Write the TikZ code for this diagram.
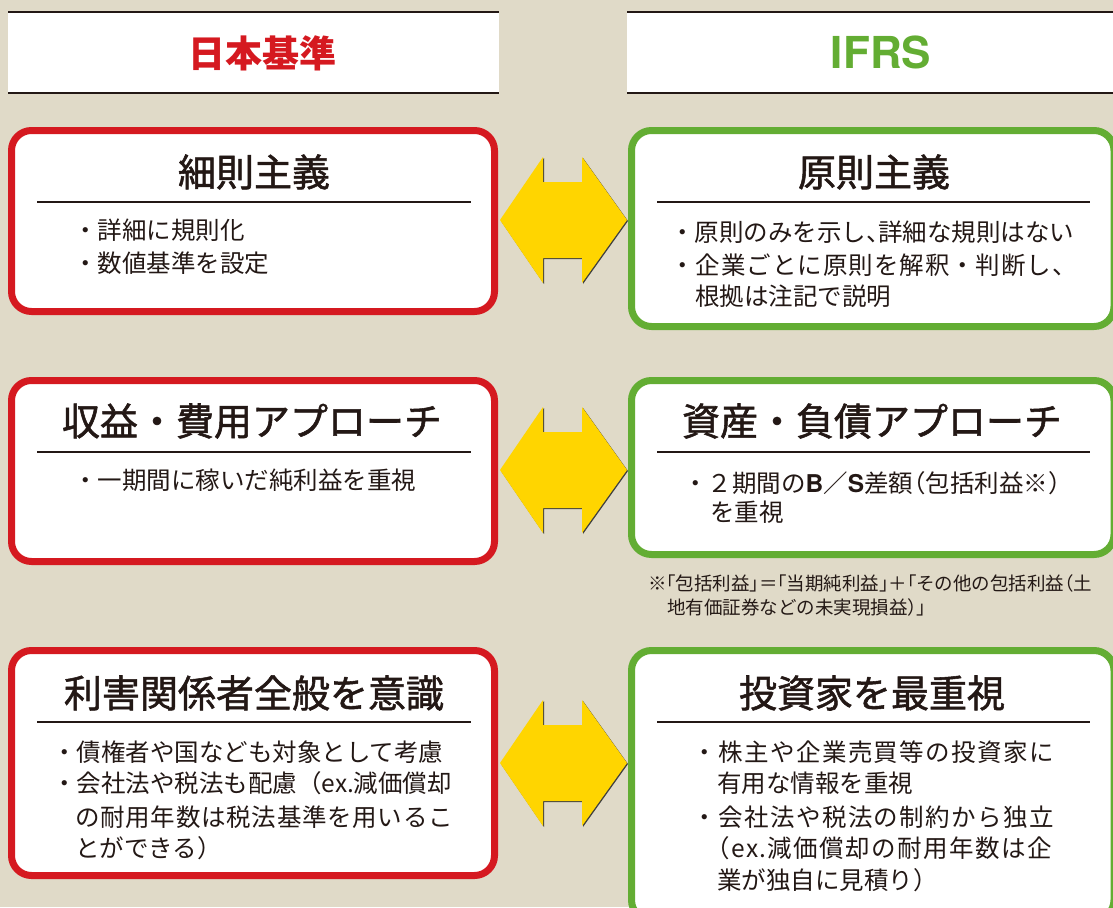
\documentclass[tikz,border=0pt]{standalone}
\usepackage{fontspec}
\newfontfamily\jp{Noto Sans CJK JP}
\newfontfamily\jpt[FakeBold=1.4]{Noto Sans CJK JP}
\newfontfamily\heros{TeX Gyre Heros}
\definecolor{bg}{HTML}{E0DAC8}
\definecolor{jred}{HTML}{D51920}
\definecolor{igreen}{HTML}{63AD33}
\definecolor{arrowy}{HTML}{FFD500}
\definecolor{ink}{HTML}{231815}
\newcommand\lsp[1]{\addfontfeature{LetterSpace=#1}}
\newcommand\prop{\addfontfeature{RawFeature=+palt}}
\newcommand\hw[1]{{\prop #1}}
\tikzset{
  redbox/.style={draw=jred, line width=7pt, fill=white, rounded corners=20pt},
  greenbox/.style={draw=igreen, line width=7pt, fill=white, rounded corners=20pt},
  sepline/.style={draw=ink, line width=1.3pt},
  hdrline/.style={draw=ink, line width=1.6pt},
  ttl/.style={anchor=base, inner sep=0pt, text=ink, font=\jpt\fontsize{38}{38}\selectfont},
  body/.style={anchor=base west, inner sep=0pt, text=ink, font=\jp\fontsize{24.5}{24.5}\selectfont},
  note/.style={anchor=base west, inner sep=0pt, text=ink, font=\jp\fontsize{18.5}{18.5}\selectfont},
  dblarr/.pic={
    \fill[black!75] (-62.5,1) -- (-19.5,-62) -- (-19.5,-37) -- (19.5,-37) -- (19.5,-62) -- (64.5,1) -- (19.5,64) -- (19.5,39) -- (-19.5,39) -- (-19.5,64) -- cycle;
    \fill[arrowy] (-63.5,0) -- (-20.5,-63) -- (-20.5,-38) -- (18.5,-38) -- (18.5,-63) -- (63.5,0) -- (18.5,63) -- (18.5,38) -- (-20.5,38) -- (-20.5,63) -- cycle;
  }
}
\begin{document}
\begin{tikzpicture}[x=1pt,y=-1pt]
\useasboundingbox (0,0) rectangle (1113,907);
\fill[bg] (0,0) rectangle (1113,907);

% headers
\fill[white] (8,12) rectangle (499,93);
\draw[hdrline] (8,12) -- (499,12);
\draw[hdrline] (8,93) -- (499,93);
\fill[white] (627,12) rectangle (1113,93);
\draw[hdrline] (627,12) -- (1113,12);
\draw[hdrline] (627,93) -- (1113,93);
\node[anchor=base, inner sep=0pt, text=jred, font=\jp\bfseries\fontsize{37}{37}\selectfont] (hjp) at (262,67) {日本基準};
\node[anchor=base, inner sep=0pt, text=igreen, font=\heros\bfseries\fontsize{44}{44}\selectfont] (hifrs) at (881,68) {IFRS};

% boxes
\draw[redbox] (11.5,130.5) rectangle (494.5,311.5);
\draw[greenbox] (631.5,130.5) rectangle (1114,326.5);
\draw[redbox] (11.5,380.5) rectangle (494.5,561.5);
\draw[greenbox] (631.5,380.5) rectangle (1114,554.5);
\draw[redbox] (11.5,650.5) rectangle (494.5,875.5);
\draw[greenbox] (631.5,650.5) rectangle (1114,920);

% separators
\draw[sepline] (37,202) -- (471,202);
\draw[sepline] (657,202) -- (1090,202);
\draw[sepline] (37,452) -- (471,452);
\draw[sepline] (657,452) -- (1090,452);
\draw[sepline] (37,722) -- (471,722);
\draw[sepline] (657,722) -- (1090,722);

% arrows
\pic at (563.5,220) {dblarr};
\pic at (563.5,470) {dblarr};
\pic at (563.5,763) {dblarr};

% row 1
\node[ttl] (t1l) at (254,186.4) {細則主義};
\node[body] (b1l1) at (73,239.3) {・詳細に規則化};
\node[body] (b1l2) at (73,272.3) {・数値基準を設定};
\node[ttl] (t1r) at (874,186.4) {原則主義};
\node[body] (b1r1) at (670,241.3) {・原則のみを示し\hw{、}詳細な規則はない};
\node[body] (b1r2) at (670,274.3) {\lsp{4}・企業ごとに原則を解釈・判断し、};
\node[body] (b1r3) at (695,305.3) {根拠は注記で説明};

% row 2
\node[ttl] (t2l) at (252,435.4) {収益・費用アプローチ};
\node[body] (b2l1) at (73,489.3) {・一期間に稼いだ純利益を重視};
\node[ttl] (t2r) at (872,435.4) {資産・負債アプローチ};
\node[body] (b2r1) at (683,492.3) {・２期間の{\heros\bfseries B}／{\heros\bfseries S}差額\hw{（}包括利益※）};
\node[body] (b2r2) at (710,521.3) {を重視};
\node[note] (n1) at (648,590) {※\hw{「}包括利益\hw{」}＝\hw{「}当期純利益\hw{」}＋\hw{「}その他の包括利益\hw{（}土};
\node[note] (n2) at (667,614) {地有価証券などの未実現損益\hw{）」}};

% row 3
\node[ttl] (t3l) at (254,707.4) {利害関係者全般を意識};
\node[body] (b3l1) at (52,761.3) {・債権者や国なども対象として考慮};
\node[body] (b3l2) at (52,792.3) {・会社法や税法も配慮（ex.減価償却};
\node[body] (b3l3) at (75,826.3) {\lsp{3}の耐用年数は税法基準を用いるこ};
\node[body] (b3l4) at (75,857.3) {とができる）};
\node[ttl] (t3r) at (872,707.4) {投資家を最重視};
\node[body] (b3r1) at (692,761.3) {\lsp{6}・株主や企業売買等の投資家に};
\node[body] (b3r2) at (717,792.3) {有用な情報を重視};
\node[body] (b3r3) at (692,826.3) {\lsp{6}・会社法や税法の制約から独立};
\node[body] (b3r4) at (705,857.3) {\lsp{6}（ex.減価償却の耐用年数は企};
\node[body] (b3r5) at (717,889.3) {業が独自に見積り）};
\end{tikzpicture}
\end{document}
